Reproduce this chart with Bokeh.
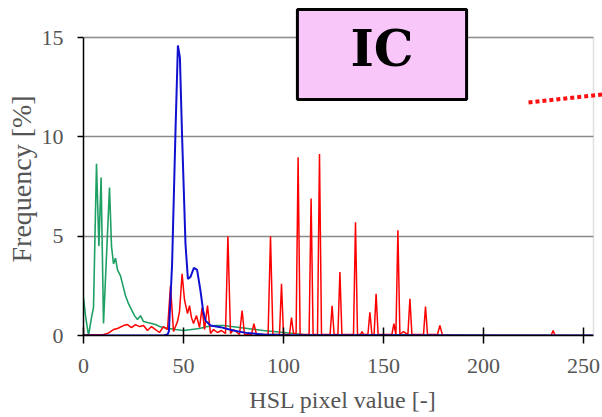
from bokeh.plotting import figure
from bokeh.models import FixedTicker, Range1d, Arrow, Label, BoxAnnotation, Title
from bokeh.embed import file_html
from bokeh.resources import INLINE

# ---- data ----
x_ticks = [0, 50, 100, 150, 200, 250]
y_ticks = [0, 5, 10, 15]

green_x = [0, 1, 2.5, 4, 5, 6.5, 7.7, 8.8, 10, 11.5, 13, 14, 15, 16, 17, 18.5, 19.5, 21,
           22.5, 24, 25.5, 27, 28.5, 30, 32, 34, 36, 38, 40, 43, 46, 50, 54, 58, 62, 66,
           70, 74, 78, 82, 86, 90, 95, 100, 105, 110, 120, 150, 255]
green_y = [1.9, 1.0, 0.0, 0.9, 1.4, 8.65, 4.5, 7.95, 0.6, 4.0, 7.45, 4.5, 3.6, 3.9, 3.3, 3.0, 2.6, 2.0,
           1.6, 1.3, 1.0, 0.8, 1.0, 0.7, 0.65, 0.6, 0.55, 0.45, 0.4, 0.35, 0.3, 0.25, 0.3, 0.35, 0.45, 0.5,
           0.5, 0.45, 0.4, 0.35, 0.3, 0.25, 0.2, 0.15, 0.1, 0.05, 0.03, 0.02, 0.0]

red_x = [0, 10, 12, 15, 17, 20, 22, 24, 26, 28, 30, 32, 34, 36, 38, 40, 42, 43.5, 45, 47, 48,
         49.3, 50.5, 52, 53, 54, 55, 56.5, 58, 59.3, 60.5, 62, 63.5, 65, 67, 69, 71, 72.2, 73.5,
         75, 78, 79.3, 80.5, 84, 85.2, 86.5, 92.3, 93.5, 94.7, 98, 99, 100, 103, 104, 105, 106.3,
         107.3, 108.3, 112.8, 113.8, 114.8, 117, 118, 119, 123.3, 124.3, 125.3, 127.2, 128.2,
         129.2, 135, 136, 137, 138.5, 139.3, 140, 142.2, 143.2, 144.2, 145.3, 146.3, 147.3, 154.2,
         155.2, 156.2, 157.2, 158.2, 160, 162.2, 163.2, 164.2, 170, 171, 172, 177, 178.2, 179.5,
         185, 233.8, 234.8, 235.8, 255]
red_y = [0.02, 0.05, 0.1, 0.3, 0.35, 0.5, 0.55, 0.4, 0.55, 0.45, 0.5, 0.25, 0.45, 0.3, 0.15, 0.45, 0.3, 2.5, 0.2, 0.7, 1.2,
         3.1, 1.8, 1.1, 1.5, 0.9, 0.6, 1.0, 0.4, 1.4, 0.3, 1.5, 0.1, 0.3, 0.15, 0.25, 0.1, 5.0, 0.1,
         0.3, 0.05, 1.26, 0.05, 0.05, 0.6, 0.05, 0.05, 5.0, 0.05, 0.05, 2.6, 0.05, 0.05, 0.9, 0.1, 0.1,
         8.97, 0.05, 0.05, 6.9, 0.05, 0.05, 9.14, 0.05, 0.05, 1.5, 0.05, 0.05, 3.2,
         0.05, 0.05, 5.7, 0.05, 0.05, 0.2, 0.05, 0.05, 1.17, 0.05, 0.05, 2.1, 0.05, 0.05,
         0.6, 0.05, 5.3, 0.05, 0.2, 0.05, 1.85, 0.05, 0.05, 1.46, 0.05, 0.05, 0.5, 0.02,
         0.0, 0.0, 0.25, 0.0, 0.0]

blue_x = [0, 40, 42, 42.7, 44.3, 46, 47.2, 48.2, 49.3, 51, 52.2, 53.5, 55.2, 56.8, 58.5, 59.8,
          61, 63.5, 68.5, 75, 82, 90, 100, 255]
blue_y = [0, 0, 0.05, 0.2, 3.6, 10.3, 14.6, 14.0, 10.0, 4.6, 2.85, 2.95, 3.4, 3.3, 2.25, 1.25,
          0.75, 0.5, 0.42, 0.25, 0.12, 0.05, 0.02, 0]

x_max = 255
y_max = 15
x_label = "HSL pixel value [-]"
y_label = "Frequency [%]"
badge_text = "IC"

# ---- layout constants (pixels) ----
PX_X = 2.0          # pixels per x unit
PX_Y = 298 / 15     # pixels per y unit
FRAME_LEFT, FRAME_BOTTOM = 83, 335

def dx(px):
    return (px - FRAME_LEFT) / PX_X

def dy(py):
    return (FRAME_BOTTOM - py) / PX_Y

# frame spans the window's top and right edges so the badge and the dotted pointer
# are not clipped; the chart area itself is x in [0, x_max], y in [0, y_max]
p = figure(width=602, height=417, output_backend="svg", toolbar_location=None,
           x_range=Range1d(0, dx(602)), y_range=Range1d(0, dy(0)),
           min_border_left=FRAME_LEFT, min_border_right=0, min_border_top=0,
           min_border_bottom=417 - FRAME_BOTTOM,
           background_fill_color="white", border_fill_color="white")
p.outline_line_color = None

p.xgrid.visible = False
p.ygrid.ticker = FixedTicker(ticks=y_ticks)
p.ygrid.grid_line_color = "#8a8a8a"
p.ygrid.grid_line_width = 1.5

TXT = "#555555"
FONT = "Liberation Serif"

p.xaxis.ticker = FixedTicker(ticks=x_ticks)
p.yaxis.ticker = FixedTicker(ticks=y_ticks)
for ax in (p.xaxis[0], p.yaxis[0]):
    ax.axis_line_color = "black"
    ax.axis_line_width = 1.5
    ax.major_tick_line_color = "black"
    ax.major_tick_line_width = 1.5
    ax.minor_tick_line_color = None
    ax.major_label_text_font = FONT
    ax.major_label_text_font_size = "22px"
    ax.major_label_text_color = TXT
    ax.axis_label_text_font = FONT
    ax.axis_label_text_font_size = "24px"
    ax.axis_label_text_color = TXT
    ax.axis_label_text_font_style = "normal"

p.xaxis.bounds = (0, x_max)
p.yaxis.bounds = (0, y_max)
p.xaxis.axis_label = x_label
p.xaxis.major_tick_in = 8
p.xaxis.major_tick_out = 8
p.xaxis.major_label_standoff = 15
p.xaxis.axis_label_standoff = 11
p.yaxis.major_tick_in = 0
p.yaxis.major_tick_out = 6
p.yaxis.major_label_standoff = 14

# y-axis title, placed along the chart area (not the taller frame)
p.add_layout(Title(text=y_label, align="left", offset=73, standoff=4,
                   text_font=FONT, text_font_size="28px", text_font_style="normal",
                   text_color=TXT), "left")

p.line(green_x, green_y, line_color="#1ea064", line_width=1.6)
p.line(red_x, red_y, line_color="#ff0000", line_width=1.5)
p.line(blue_x, blue_y, line_color="#1010d0", line_width=2)

# mask grid beyond the chart's right edge, then draw the chart's top/right border
p.add_layout(BoxAnnotation(left=x_max, fill_color="white", fill_alpha=1.0, line_color=None))
p.add_layout(BoxAnnotation(left=-5, right=x_max, bottom=-1, top=y_max, fill_alpha=0.0,
                           line_color="#9a9a9a", line_width=1.5))

# ---- "IC" badge and dotted pointer ----
p.add_layout(Label(x=dx(381.5), y=dy(54), text=badge_text,
                   text_font="DejaVu Serif", text_font_style="bold",
                   text_font_size="50px", text_color="black",
                   text_align="center", text_baseline="middle",
                   background_fill_color="#f9c6f9", background_fill_alpha=1.0,
                   border_line_color="black", border_line_width=3,
                   padding=dict(left=53, right=53, top=9, bottom=22)))
p.add_layout(Arrow(end=None, x_start=dx(528), y_start=dy(102),
                   x_end=dx(602), y_end=dy(94),
                   line_color="#ff1010", line_width=4, line_dash="4 3"))

open("out.html", "w").write(file_html(p, INLINE))
